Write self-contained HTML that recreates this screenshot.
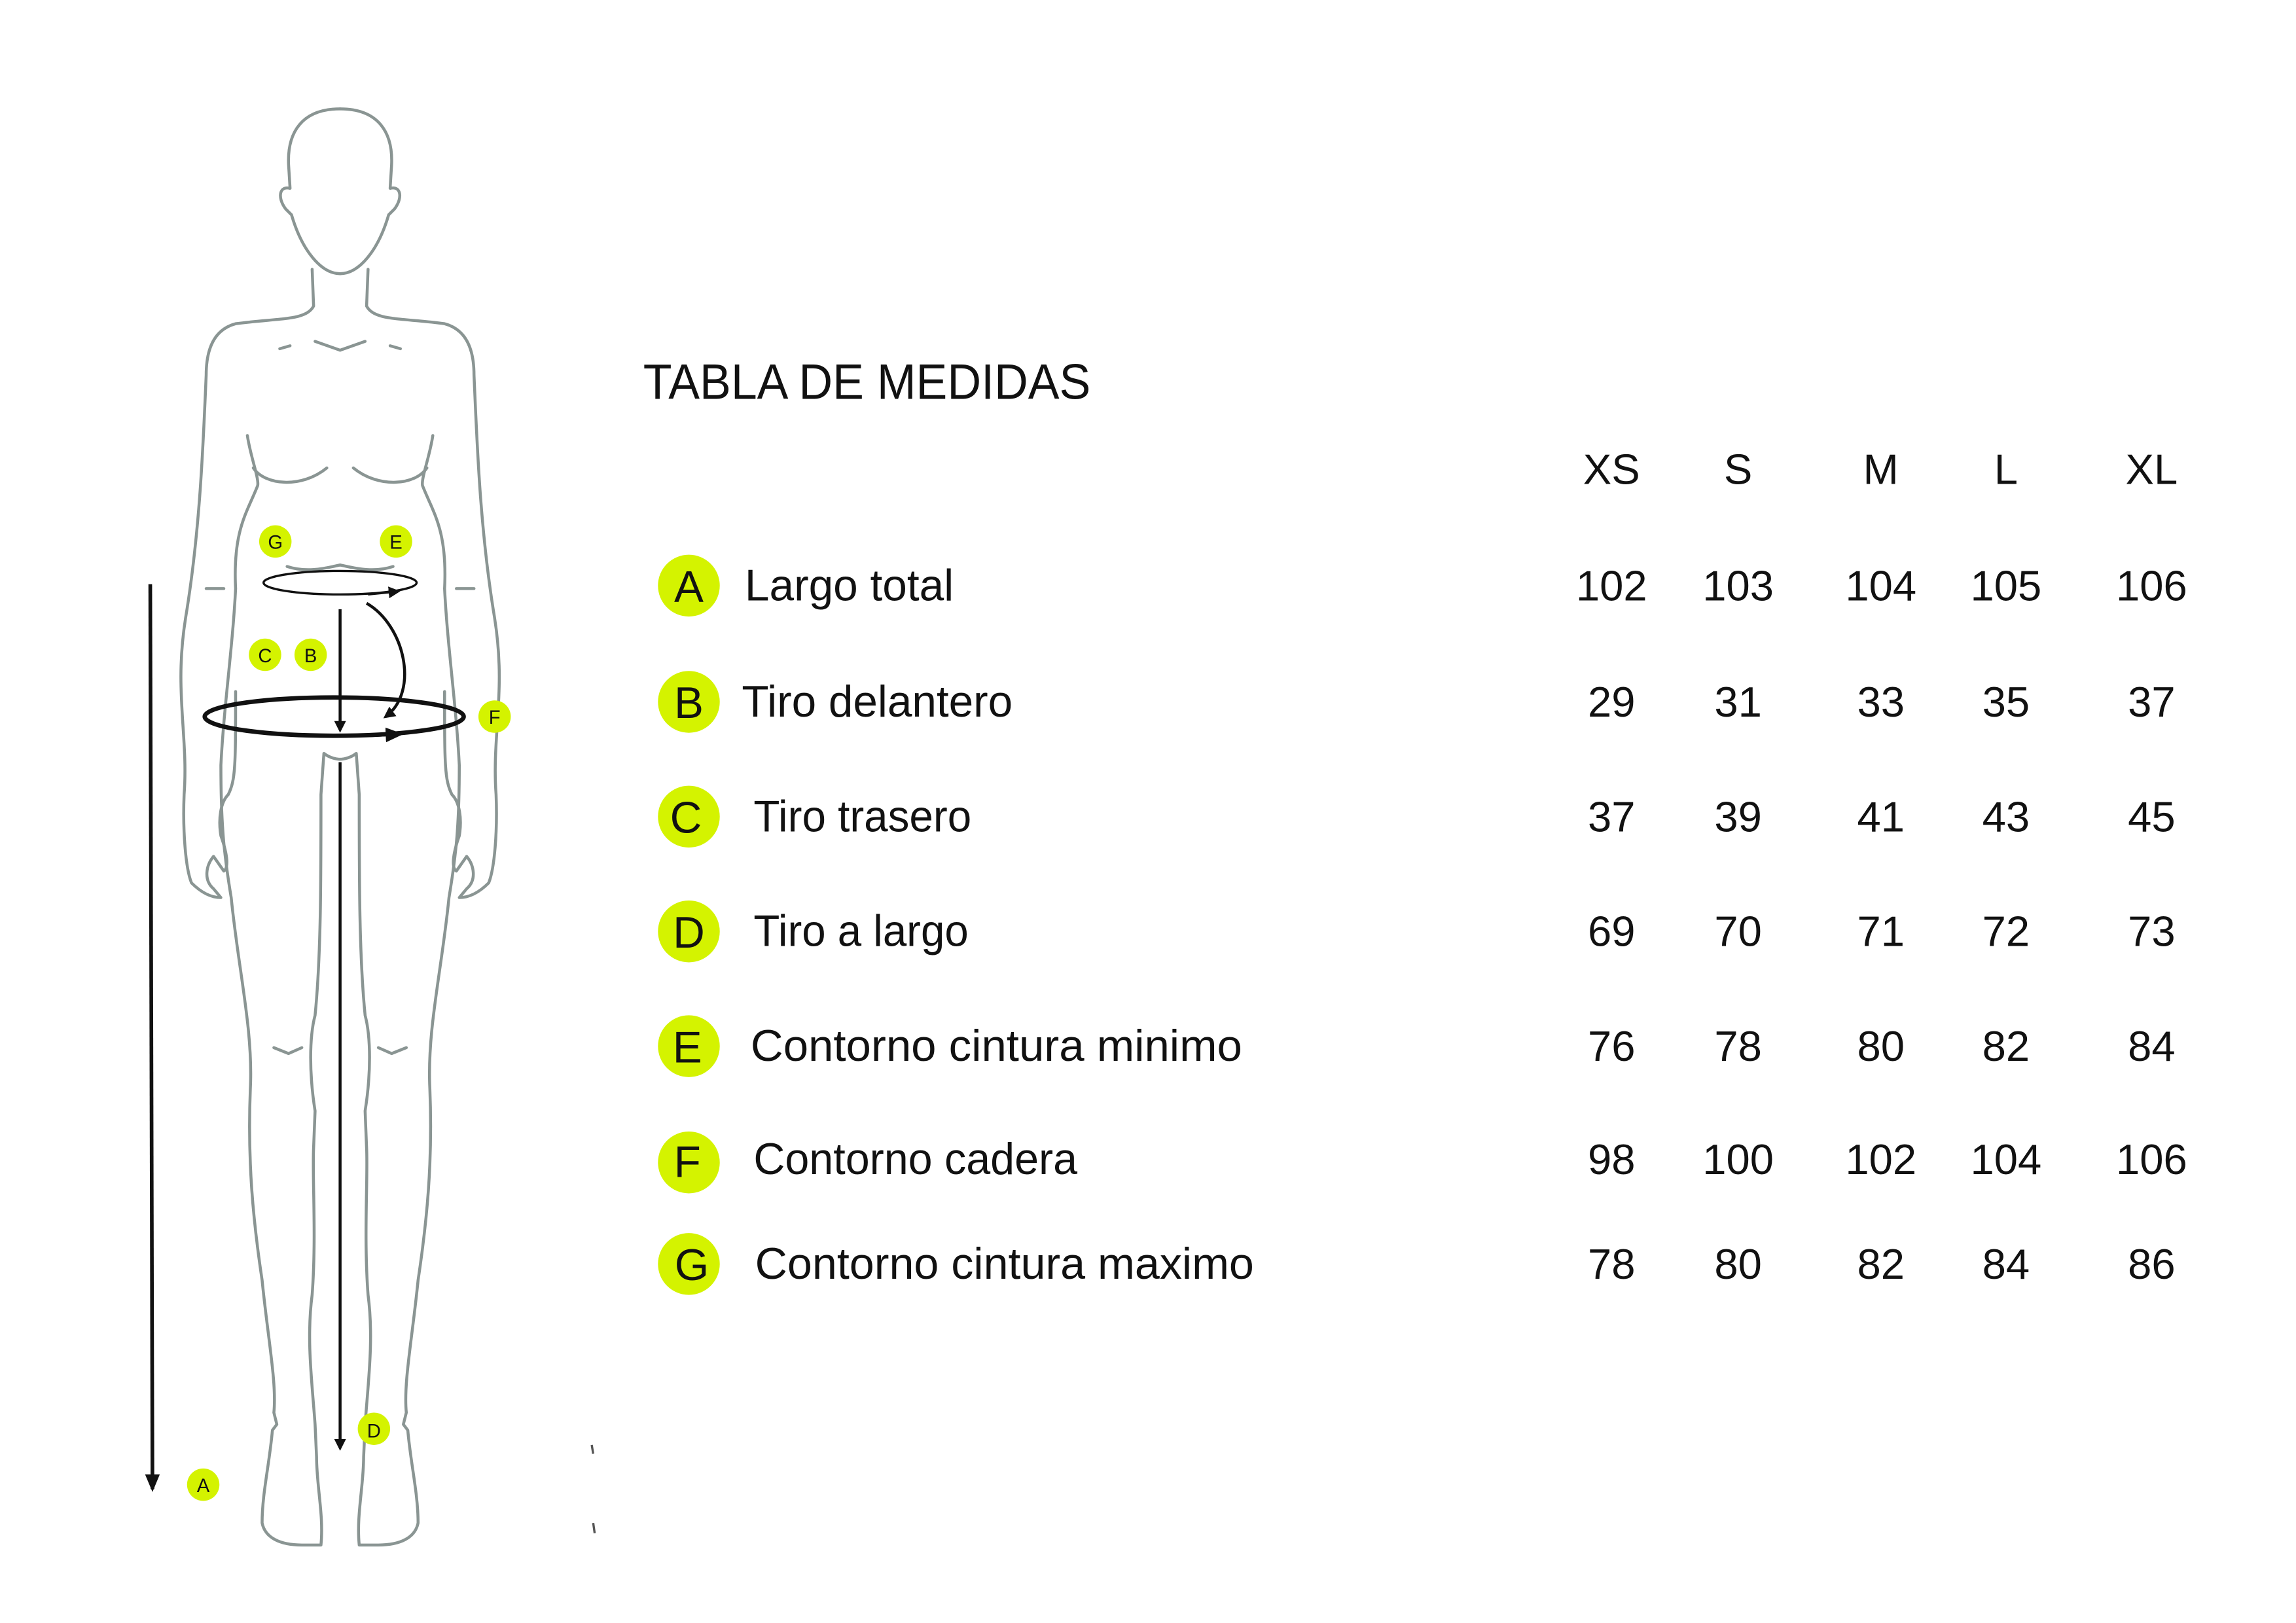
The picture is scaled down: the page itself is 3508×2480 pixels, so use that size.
<!DOCTYPE html>
<html><head><meta charset="utf-8"><style>
html,body{margin:0;padding:0;background:#fff;width:3508px;height:2480px;overflow:hidden}
svg{display:block}
text{font-family:"Liberation Sans Narrow","Liberation Sans",sans-serif;fill:#111}
</style></head><body>
<svg width="3508" height="2480" viewBox="0 0 1560 1103" xmlns="http://www.w3.org/2000/svg">
<rect width="1560" height="1103" fill="#fff"/>
<defs>
<marker id="ah" markerWidth="8" markerHeight="8" refX="6" refY="4" orient="auto" markerUnits="userSpaceOnUse"><path d="M0,0 L8,4 L0,8 Z" fill="#111"/></marker>
<marker id="ah2" markerWidth="12" markerHeight="10" refX="10" refY="5" orient="auto" markerUnits="userSpaceOnUse"><path d="M0,0 L12,5 L0,10 Z" fill="#111"/></marker>
<g id="half" fill="none" stroke="#8a9593" stroke-width="2" stroke-linecap="round" stroke-linejoin="round">
<path d="M231,74 C205,74 195,90 196,112 L197,128 C190,126 188,134 194,142 L198,146 C205,170 218,186 231,186"/>
<path d="M212,183 L213,208 C208,218 190,216 160,220 C145,224 140,238 140,255 C138,300 136,360 126,420 C118,470 128,500 125,540 C124,565 126,590 130,600 C140,610 148,610 150,610 L145,604 C138,598 140,588 145,582 L152,592 C155,590 155,582 150,568 C148,556 150,545 155,540 C160,530 160,520 160,470"/>
<path d="M168,296 C170,310 176,325 175,330 C168,348 158,360 160,400 C158,440 152,480 150,520 C150,560 152,580 157,610 C162,660 172,700 170,740 C168,790 172,830 178,870 C182,910 188,940 186,960 L188,968 L185,972 C183,995 178,1015 178,1035 C180,1045 190,1050 205,1050 L218,1050 C220,1030 215,1010 215,990 L214,968 C212,940 208,910 212,880 C215,840 212,800 213,780 L214,755 C210,730 210,705 214,690 C218,650 218,600 218,540 L220,512 C225,516 231,516 231,516"/>
<path d="M172,318 C180,330 205,332 222,318"/>
<path d="M190,237 L197,235 M214,232 L231,238"/>
<path d="M140,400 L152,400 M186,712 L196,716 L205,712"/>
<path d="M195,385 C210,390 225,385 231,384"/>
</g>
</defs>
<use href="#half"/>
<use href="#half" transform="translate(462,0) scale(-1,1)"/>
<!-- waist ellipse -->
<ellipse cx="231" cy="396" rx="52" ry="8" fill="none" stroke="#111" stroke-width="1.5"/>
<path d="M250,404 L270,402" stroke="#111" stroke-width="1.5" marker-end="url(#ah)" fill="none"/>
<!-- hip ellipse -->
<ellipse cx="227" cy="487" rx="88" ry="13" fill="none" stroke="#111" stroke-width="3"/>
<path d="M250,500 L272,499" stroke="#111" stroke-width="2" marker-end="url(#ah2)" fill="none"/>
<!-- arrows -->
<line x1="102" y1="397" x2="103.5" y2="1012" stroke="#111" stroke-width="2.5" marker-end="url(#ah2)"/>
<line x1="231" y1="414" x2="231" y2="496" stroke="#111" stroke-width="2" marker-end="url(#ah)"/>
<path d="M249,410 C275,425 285,470 262,487" fill="none" stroke="#111" stroke-width="2" marker-end="url(#ah)"/>
<line x1="231" y1="518" x2="231" y2="984" stroke="#111" stroke-width="2" marker-end="url(#ah)"/>
<path d="M402,982 L403,988 M403,1035 L404,1042" stroke="#555" stroke-width="1.5"/>
<!-- small badges -->
<g font-size="13" text-anchor="middle">
<circle cx="187" cy="368" r="11" fill="#d4f300"/><text x="187" y="373">G</text>
<circle cx="269" cy="368" r="11" fill="#d4f300"/><text x="269" y="373">E</text>
<circle cx="180" cy="445" r="11" fill="#d4f300"/><text x="180" y="450">C</text>
<circle cx="211" cy="445" r="11" fill="#d4f300"/><text x="211" y="450">B</text>
<circle cx="336" cy="487" r="11" fill="#d4f300"/><text x="336" y="492">F</text>
<circle cx="254" cy="971" r="11" fill="#d4f300"/><text x="254" y="977">D</text>
<circle cx="138" cy="1009" r="11" fill="#d4f300"/><text x="138" y="1014">A</text>
</g>
<!-- table -->
<text x="437" y="271" font-size="34" textLength="304" lengthAdjust="spacingAndGlyphs">TABLA DE MEDIDAS</text>
<g font-size="29" text-anchor="middle">
<text x="1095" y="329">XS</text><text x="1181" y="329">S</text><text x="1278" y="329">M</text><text x="1363" y="329">L</text><text x="1462" y="329">XL</text>
</g>
<g fill="#d4f300">
<circle cx="468" cy="398" r="21"/><circle cx="468" cy="477" r="21"/><circle cx="468" cy="555" r="21"/><circle cx="468" cy="633" r="21"/><circle cx="468" cy="711" r="21"/><circle cx="468" cy="790" r="21"/><circle cx="468" cy="859" r="21"/>
</g>
<g font-size="30" text-anchor="middle">
<text x="468" y="409">A</text><text x="468" y="488">B</text><text x="466" y="566">C</text><text x="468" y="644">D</text><text x="467" y="722">E</text><text x="467" y="800">F</text><text x="470" y="870">G</text>
</g>
<g font-size="30">
<text x="506" y="408" textLength="142" lengthAdjust="spacingAndGlyphs">Largo total</text>
<text x="504" y="487" textLength="184" lengthAdjust="spacingAndGlyphs">Tiro delantero</text>
<text x="512" y="565" textLength="148" lengthAdjust="spacingAndGlyphs">Tiro trasero</text>
<text x="512" y="643" textLength="146" lengthAdjust="spacingAndGlyphs">Tiro a largo</text>
<text x="510" y="721" textLength="334" lengthAdjust="spacingAndGlyphs">Contorno cintura minimo</text>
<text x="512" y="798" textLength="220" lengthAdjust="spacingAndGlyphs">Contorno cadera</text>
<text x="513" y="869" textLength="339" lengthAdjust="spacingAndGlyphs">Contorno cintura maximo</text>
</g>
<g font-size="29" text-anchor="middle">
<text x="1095" y="408">102</text><text x="1181" y="408">103</text><text x="1278" y="408">104</text><text x="1363" y="408">105</text><text x="1462" y="408">106</text>
<text x="1095" y="487">29</text><text x="1181" y="487">31</text><text x="1278" y="487">33</text><text x="1363" y="487">35</text><text x="1462" y="487">37</text>
<text x="1095" y="565">37</text><text x="1181" y="565">39</text><text x="1278" y="565">41</text><text x="1363" y="565">43</text><text x="1462" y="565">45</text>
<text x="1095" y="643">69</text><text x="1181" y="643">70</text><text x="1278" y="643">71</text><text x="1363" y="643">72</text><text x="1462" y="643">73</text>
<text x="1095" y="721">76</text><text x="1181" y="721">78</text><text x="1278" y="721">80</text><text x="1363" y="721">82</text><text x="1462" y="721">84</text>
<text x="1095" y="798">98</text><text x="1181" y="798">100</text><text x="1278" y="798">102</text><text x="1363" y="798">104</text><text x="1462" y="798">106</text>
<text x="1095" y="869">78</text><text x="1181" y="869">80</text><text x="1278" y="869">82</text><text x="1363" y="869">84</text><text x="1462" y="869">86</text>
</g>
</svg>
</body></html>
